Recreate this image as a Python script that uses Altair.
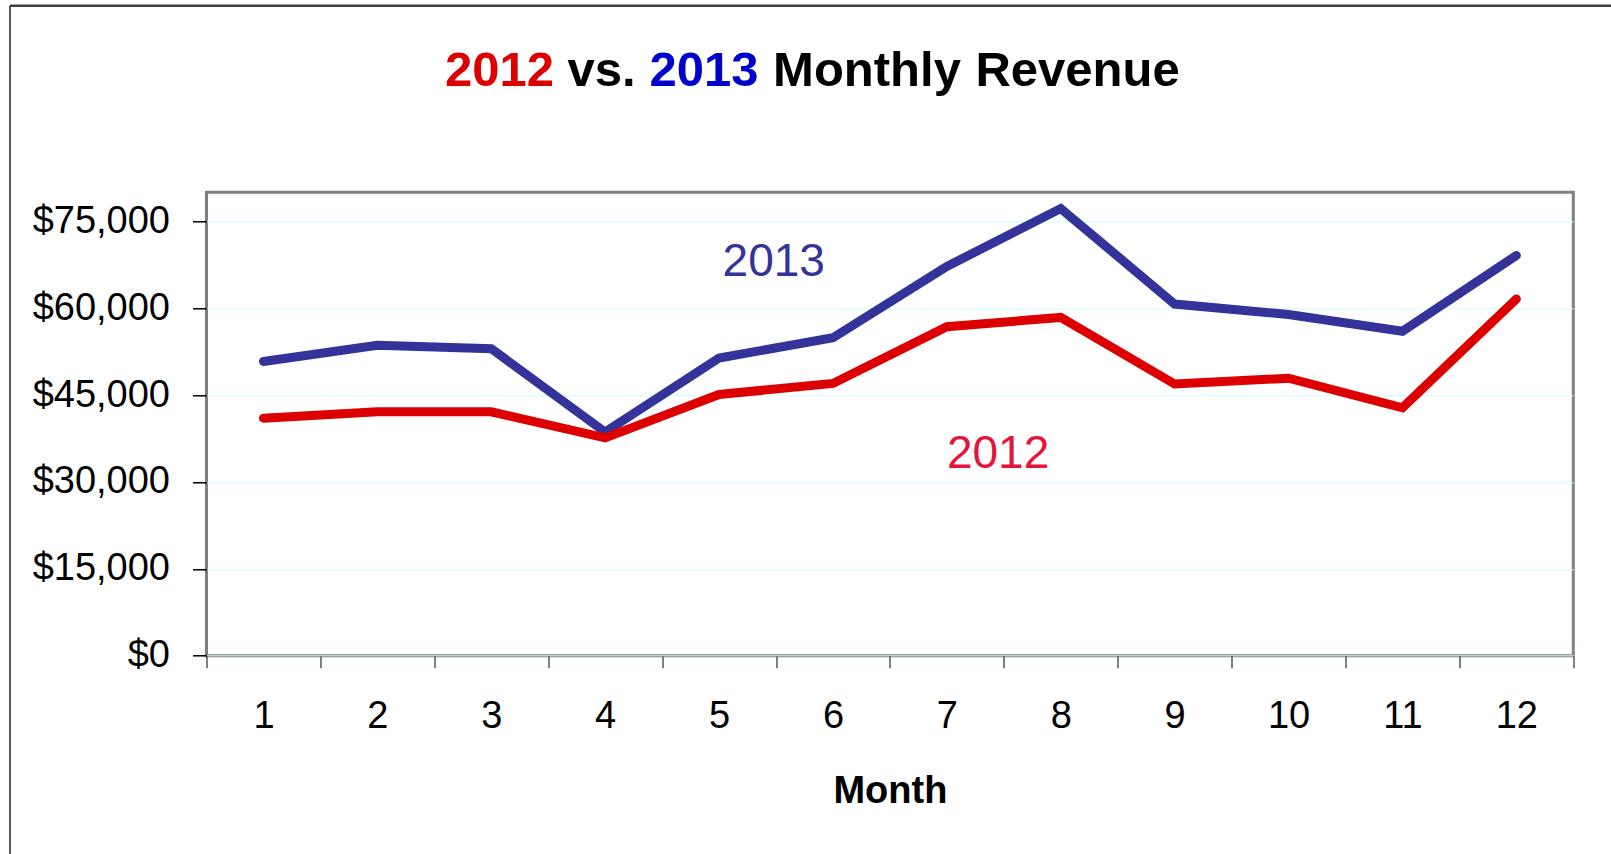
import altair as alt
import pandas as pd

# ---- data ----
months = [1, 2, 3, 4, 5, 6, 7, 8, 9, 10, 11, 12]
rev_2012 = [41000, 42100, 42100, 37600, 45100, 47000, 56800, 58400, 46900, 47900, 42800, 61600]
rev_2013 = [50800, 53600, 53000, 38600, 51400, 54900, 67200, 77200, 60700, 58900, 56000, 69100]
y_ticks = [0, 15000, 30000, 45000, 60000, 75000]
x_bounds = [0.5 + i for i in range(13)]

FONT = "Liberation Sans"
RED = "#DD0000"
BLUE = "#333399"

W, H = 1366.8, 463.4
PAD_L, PAD_T = 206.5, 192.3

df12 = pd.DataFrame({"Month": months, "Revenue": rev_2012, "Year": "2012"})
df13 = pd.DataFrame({"Month": months, "Revenue": rev_2013, "Year": "2013"})

x_scale = alt.Scale(domain=[0.5, 12.5], nice=False, zero=False)
y_scale = alt.Scale(domain=[0, 80000], nice=False)

x_axis = alt.Axis(
    values=x_bounds,
    labelExpr="datum.value < 12 ? format(datum.value + 0.5, 'd') : ''",
    labelOffset=56.95,
    labelFlush=False,
    labelOverlap=False,
    labelFont=FONT,
    labelFontSize=38,
    labelColor="black",
    labelPadding=30,
    tickSize=12,
    tickColor="#555555",
    tickWidth=1.5,
    domain=False,
    grid=False,
    title="Month",
    titleFont=FONT,
    titleFontSize=38,
    titleFontWeight="bold",
    titleColor="black",
    titleBaseline="alphabetic",
    titleY=147,
    titleX=W / 2,
)

y_axis = alt.Axis(
    values=y_ticks,
    format="$,.0f",
    labelFlush=False,
    labelOverlap=False,
    labelFont=FONT,
    labelFontSize=38,
    labelColor="black",
    labelPadding=23,
    tickSize=14,
    tickColor="black",
    tickWidth=1.5,
    domain=False,
    grid=True,
    gridColor="#CCFFFF",
    gridWidth=1,
    title=None,
)


def line_layer(df, color):
    return alt.Chart(df).mark_line(
        color=color, strokeWidth=9, strokeCap="round", strokeJoin="miter"
    ).encode(
        x=alt.X("Month:Q", scale=x_scale, axis=x_axis),
        y=alt.Y("Revenue:Q", scale=y_scale, axis=y_axis),
    )


blue_line = line_layer(df13, BLUE)
red_line = line_layer(df12, RED)

one = pd.DataFrame({"k": [0]})


# series labels inside the plot (data coordinates)
def series_label(text, color, xv, yv):
    return alt.Chart(one).mark_text(
        text=text, font=FONT, fontSize=46, color=color, align="center", baseline="alphabetic"
    ).encode(
        x=alt.XDatum(xv, type="quantitative", scale=x_scale, axis=x_axis),
        y=alt.YDatum(yv, type="quantitative", scale=y_scale, axis=y_axis),
    )


lab13 = series_label("2013", BLUE, 5.48, 65550)
lab12 = series_label("2012", "#E6133C", 7.45, 32400)


# multi-coloured title, word by word
def title_word(word, color, cx):
    return alt.Chart(one).mark_text(
        text=word, font=FONT, fontSize=49, fontWeight="bold", color=color,
        align="center", baseline="alphabetic",
    ).encode(x=alt.value(cx - PAD_L), y=alt.value(86 - PAD_T))


title_layers = [
    title_word("2012", RED, 499.5),
    title_word("vs.", "black", 601.5),
    title_word("2013", "#0000CC", 704),
    title_word("Monthly", "black", 867),
    title_word("Revenue", "black", 1077.5),
]

# outer frame (left and top edges visible)
frame_left = alt.Chart(one).mark_rule(color="#222222", strokeWidth=1.5).encode(
    x=alt.value(10 - PAD_L), y=alt.value(5.7 - PAD_T), y2=alt.value(854 - PAD_T)
)
frame_top = alt.Chart(one).mark_rule(color="#404040", strokeWidth=2.5).encode(
    y=alt.value(5.7 - PAD_T), x=alt.value(10 - PAD_L), x2=alt.value(1611 - PAD_L)
)

chart = alt.layer(
    blue_line, red_line, lab13, lab12, *title_layers, frame_left, frame_top
).properties(
    width=W,
    height=H,
    autosize=alt.AutoSizeParams(type="none"),
    padding={"left": PAD_L, "top": PAD_T, "right": 1611 - PAD_L - W, "bottom": 854 - PAD_T - H},
    background="white",
).configure_view(
    stroke="#808080", strokeWidth=3
)

chart.save("out.html", embed_options={"renderer": "svg", "actions": False})
